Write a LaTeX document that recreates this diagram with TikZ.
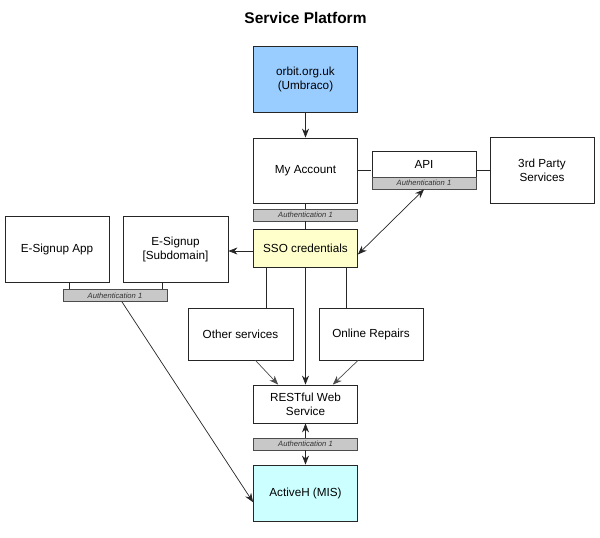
\documentclass[tikz,border=0pt]{standalone}
\usepackage{fontspec}
\setmainfont{Liberation Sans}
\usepackage{tikz}
\usetikzlibrary{positioning}
\usetikzlibrary{arrows.meta}
\usetikzlibrary{fit}

\definecolor{orbitblue}{HTML}{99CCFF}
\definecolor{ssoyellow}{HTML}{FFFFCC}
\definecolor{miscyan}{HTML}{CCFFFF}
\definecolor{authgray}{HTML}{C8C8C8}

\begin{document}
\begin{tikzpicture}[x=0.03cm, y=-0.03cm,
				box/.style={rectangle, draw=black!85, line width=0.7pt, fill=white,
						minimum width=3.12cm, minimum height=1.98cm,
						align=center, font=\fontsize{10}{12}\selectfont, inner sep=0pt},
				authbar/.style={rectangle, draw=black!70, line width=0.7pt, fill=authgray,
						minimum width=3.12cm, minimum height=0.36cm, inner sep=0pt,
						font=\fontsize{6.5}{7}\selectfont\itshape, text=black!80},
				link/.style={line width=0.6pt, draw=black!85},
				arrow/.style={link, -{Stealth[length=2.7mm, width=2.1mm]}},
				biarrow/.style={link, {Stealth[length=2.7mm, width=2.1mm]}-{Stealth[length=2.7mm, width=2.1mm]}}
			]
			\useasboundingbox (0,0) rectangle (600,537);

			% Title
			\node[font=\fontsize{13.2}{15}\selectfont\bfseries] (title) at (305.5,18) {Service Platform};

			% Central column
			\node[box, fill=orbitblue] (orbit) at (305.5,79) {orbit.org.uk\\(Umbraco)};
			\node[box, minimum height=1.95cm] (account) at (305.5,170.5) {My Account};
			\node[authbar] (authA) at (305.5,215) {Authentication 1};
			\node[box, fill=ssoyellow, minimum height=1.14cm] (sso) at (305.5,248) {SSO credentials};

			% API and third party
			\node[box, minimum height=0.78cm] (api) at (424,164) {API};
			\node[authbar] (authB) at (424,183) {Authentication 1};
			\node[fit={(api) (authB)}, inner sep=0pt] (apigroup) {};
			\node[box] (third) at (542,170) {3rd Party\\Services};

			% E-Signup
			\node[box] (esapp) at (57,249) {E-Signup App};
			\node[box, minimum width=3.15cm] (essub) at (175.5,249) {E-Signup\\{[Subdomain]}};
			\node[authbar] (authC) at (115,295.5) {Authentication 1};

			% Services
			\node[box, minimum width=3.15cm, minimum height=1.56cm] (other) at (240.5,334) {Other services};
			\node[box, minimum height=1.56cm] (repairs) at (371,334) {Online Repairs};

			% Back end
			\node[box, minimum height=1.14cm] (rest) at (305.5,404) {RESTful Web\\Service};
			\node[authbar] (authD) at (305.5,444) {Authentication 1};
			\node[box, fill=miscyan, minimum height=1.68cm] (active) at (305.5,493) {ActiveH (MIS)};

			% Connectors
			\draw[arrow] (orbit) -- (account);
			\draw[link] (account) -- (authA);
			\draw[link] (authA) -- (sso);
			\draw[link] (account.east) -- (account.east -| apigroup.west);
			\draw[link] (apigroup.east) -- (apigroup.east -| third.west);
			\draw[biarrow] (sso.-7) -- (authB.south);
			\draw[arrow] (sso.west |- 0,251) -- (essub.east |- 0,251);
			\draw[link] ([xshift=0.21cm]authC.north west) -- ([xshift=0.21cm]authC.north west |- esapp.south);
			\draw[link] ([xshift=-0.15cm]authC.north east) -- ([xshift=-0.15cm]authC.north east |- essub.south);
			\draw[link] ([xshift=0.39cm]sso.south west) -- ([xshift=0.39cm]sso.south west |- other.north);
			\draw[link] ([xshift=-0.36cm]sso.south east) -- ([xshift=-0.36cm]sso.south east |- repairs.north);
			\draw[arrow] (sso) -- (rest);
			\draw[arrow, draw=black!70] ([xshift=0.45cm]other.south) -- ([xshift=-0.82cm]rest.north);
			\draw[arrow, draw=black!70] ([xshift=-0.39cm]repairs.south) -- ([xshift=0.82cm]rest.north);
			\draw[arrow] (authD) -- (rest);
			\draw[arrow] (authD) -- (active);
			\draw[arrow] ([xshift=0.21cm]authC.south) -- (active.190);

		\end{tikzpicture}
\end{document}
